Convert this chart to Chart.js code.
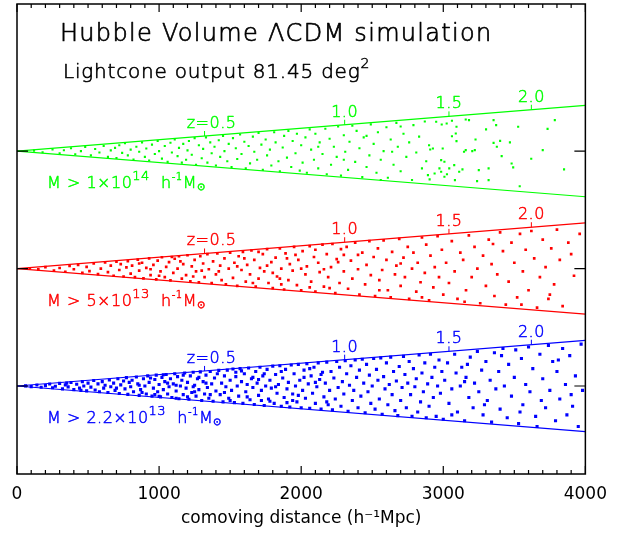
<!DOCTYPE html>
<html>
<head>
<meta charset="utf-8">
<script src="https://cdn.jsdelivr.net/npm/chart.js@4"></script>
<style>
  body { margin: 0; background: #fff; }
</style>
</head>
<body>
<canvas id="cone" width="617" height="533"></canvas>
<script>
// comoving distance along the cone (h^-1 Mpc), offset from the cone axis (h^-1 Mpc)
const greenHalos = [
  [120,3],[180,-8],[250,12],[300,-15],[330,6],[380,20],[410,-22],[450,0],[480,28],[520,-30],[550,14],[580,-10],[610,35],[640,-40],[660,5],
  [690,22],[700,-48],[720,40],[740,-12],[760,55],[780,-30],[800,10],[820,-58],[840,30],[860,-5],[880,60],[900,-40],[910,18],[930,-65],[950,45],
  [970,-20],[990,70],[1000,0],[1020,-52],[1040,35],[1060,-75],[1080,58],[1090,-10],[1110,80],[1130,-35],[1140,22],[1160,-80],[1170,50],[1190,-60],
  [1200,5],[1210,70],[1230,-25],[1250,90],[1260,-95],[1280,40],
  [1300,-50],[1310,15],[1330,95],[1340,-80],[1360,60],[1370,-15],[1390,30],[1400,-100],[1420,75],[1430,-40],[1450,105],[1460,0],[1480,-70],
  [1490,50],[1510,-110],[1520,90],[1540,20],[1550,-55],[1570,115],[1580,-20],[1600,65],[1610,-120],[1630,35],[1640,-85],[1660,100],[1670,-5],
  [1690,-60],[1700,125],[1720,45],[1730,-130],[1750,80],[1760,-30],[1780,10],[1790,-100],[1810,130],[1820,60],[1840,-70],[1850,-140],[1870,25],
  [1880,105],[1900,-45],[1910,140],[1930,-110],[1940,70],[1960,-15],[1970,120],[1990,-135],[2000,40],[2010,-80],[2030,95],
  [2040,-150],[2060,150],[2070,10],[2090,-60],[2100,120],[2120,-120],[2130,60],[2150,-20],[2170,155],[2180,-160],[2200,85],[2210,-95],[2230,30],
  [2250,-40],[2260,170],[2280,-170],[2300,110],[2310,-5],[2330,-130],[2340,65],[2360,175],[2380,-75],[2390,140],[2410,20],[2430,-180],[2440,95],
  [2460,-110],[2480,-30],[2490,185],[2510,50],[2530,-150],[2540,130],[2560,-60],[2580,0],[2600,165],[2610,-185],[2630,80],[2650,-95],[2670,195],
  [2680,30],[2700,-140],[2720,120],[2740,-40],[2760,60],[2780,-200],[2790,180],[2810,-10],[2830,100],[2850,-120],[2870,205],[2880,-70],[2900,40],
  [2640,-5],[2460,105],[2300,-60],[2120,30],[2700,170],[2560,-200],
  [2950,203],[2989,184],[3024,191],[3061,210],[3093,168],[3158,219],[3181,214],[3354,214],[3372,180],[3301,150],[3527,168],[3785,214],[3734,154],
  [3088,122],[3061,103],[3093,69],[3227,80],[3354,57],[3400,71],[3469,60],[3377,30],[3158,7],[3146,-5],[3204,0],[3222,7],[2996,18],[2927,18],
  [2908,11],[3700,7],[3619,-53],[3411,-35],[3319,-120],[3250,-132],[3135,-127],[3112,-143],[3077,-97],[3042,-120],[2973,-120],[2985,-63],
  [3008,-74],[3481,-86],[3492,-113],[3850,-127],[3538,-243],[3319,-201],[3238,-208],[3082,-201],[3026,-160],[3008,-178],[2985,-143],[2939,-155],
  [2904,-196],[2892,-166]
];

const redHalos = [
  [90,2],[150,-6],[200,10],[260,-14],[300,4],[340,-22],[370,18],[400,-5],[430,26],[460,-30],[490,12],[510,-18],[540,35],[570,-38],[590,0],[620,42],
  [640,-25],[660,20],[680,-50],[700,48],
  [720,-10],[730,30],[750,-55],[770,8],[780,52],[800,-35],[810,20],[830,-60],[850,62],[860,-15],[880,40],[890,-68],[910,5],[930,70],[940,-45],
  [960,25],[980,-75],[990,55],[1010,-20],[1020,78],[1040,-60],[1050,12],[1070,45],[1080,-82],[1100,-30],[1110,68],[1130,0],[1140,85],[1160,-70],
  [1170,30],[1190,-45],[1200,92],[1220,-88],[1230,15],[1250,60],[1260,-20],[1280,-95],[1290,85],[1310,35],[1320,-60],[1340,100],[1350,-5],
  [1370,-100],[1380,50],[1400,-40],[1410,105],[1430,20],[1440,-80],[1460,70],[1470,-110],[1490,0],[1500,110],[1300,-15],[1150,50],[1000,-50],
  [860,35],[1420,-20],[1240,-55],[1090,80],[940,-5],
  [1520,-65],[1530,40],[1550,-120],[1560,85],[1580,-10],[1590,115],[1610,-90],[1620,25],[1640,-40],[1650,125],[1670,60],[1680,-125],[1700,-70],
  [1710,5],[1730,100],[1740,-20],[1760,135],[1770,-100],[1790,45],[1800,-135],[1820,75],[1830,-55],[1850,140],[1860,0],[1880,-145],[1890,105],
  [1910,-80],[1920,30],[1940,-15],[1950,150],[1970,-115],[1980,60],[2000,-150],[2010,120],[2030,-40],[2040,15],[2060,155],[2070,-90],[2090,80],
  [2100,-160],[2120,40],[2130,-25],[2150,165],[2160,-125],[2180,100],[2190,-60],[2210,10],[2220,170],[2240,-170],[2250,65],[2270,-100],[2280,135],
  [2300,-20],[1600,70],[1700,115],[1800,-30],[1900,70],[2000,0],[2100,130],[2200,-135],[2300,95],[1660,-100],[1760,20],[1860,-110],[1960,95],
  [2060,-130],[2160,-5],[2260,45],[1550,15],[1850,-70],
  [2320,150],[2330,-140],[2350,55],[2360,-70],[2380,180],[2400,-5],[2410,-180],[2430,110],[2450,-110],[2460,25],[2480,190],[2490,-45],[2510,80],
  [2520,-190],[2540,140],[2550,-80],[2570,-10],[2580,195],[2600,60],[2610,-150],[2630,-200],[2640,115],[2660,-40],[2670,20],[2690,205],[2700,-120],
  [2720,75],[2730,-60],[2750,150],[2760,-210],[2780,0],[2790,110],[2810,-160],[2820,40],[2840,-95],[2850,215],[2870,-30],[2880,165],[2900,-220],
  [2910,90],[2930,-130],[2940,10],[2960,225],[2970,-60],[2990,130],[3000,-180],[2400,95],[2550,-150],[2700,35],[2850,-200],
  [3020,40],[3040,-100],[3060,190],[3080,-20],[3100,-210],[3120,110],[3140,60],[3160,-150],[3180,230],[3200,-60],[3220,150],[3240,0],[3260,-240],
  [3280,90],[3300,-120],[3320,200],[3340,30],[3360,-190],[3380,-40],[3400,250],[3420,120],[3440,-250],[3460,-90],[3480,180],[3500,40],[3520,-200],
  [3540,240],[3560,-20],[3580,130],[3600,-150],[3620,260],[3640,70],[3660,-270],[3680,-60],[3700,200],[3720,10],[3740,-210],[3760,140],[3780,-110],
  [3800,270],[3820,60],[3840,-260],[3880,180],[3920,-50],[3960,240],[3150,-230],[3350,170],[3550,-250],[3750,-180],[3900,100]
];

const blueHalos = [
  [60,1],[100,-4],[140,7],[170,-9],[200,3],[230,14],[250,-12],[270,-2],[300,18],[320,-20],[340,8],[360,-6],[380,24],[400,-25],[420,12],[440,-15],
  [460,30],[470,0],[490,-34],[500,20],[520,-8],[540,38],[550,-28],[570,15],[580,-40],[600,30],[610,-15],[620,5],[350,20],[450,-30],
  [640,-45],[650,42],[660,-5],[680,20],[690,-30],[710,50],[720,-52],[730,8],[750,35],[760,-20],[770,58],[780,-58],[800,-5],[810,40],[820,-40],
  [840,62],[850,15],[860,-65],[870,-25],[890,50],[900,0],[910,-55],[920,70],[930,25],[950,-70],[960,-15],[970,45],[980,75],[990,-40],[1000,10],
  [1010,-75],[1020,60],[1030,-25],[1040,30],[1050,80],[1060,-55],[1070,-5],[1080,50],[1090,-80],[1100,15],[1110,85],[1120,-35],[1130,65],
  [1140,-88],[1150,0],[1160,40],[1170,-60],[1180,90],[1190,-15],[1200,25],[1210,-92],[1220,70],[1230,-45],[1240,95],[1250,5],[1260,-70],[1270,50],
  [1280,-25],[1290,98],[1300,-100],[1310,30],[1320,-55],[1330,75],[1340,-10],[1350,-85],[1360,100],[1370,15],[1380,-105],[1390,55],[1400,-35],
  [700,-15],[790,25],[880,-45],[940,55],[1030,78],[1120,5],[1200,-75],[1280,60],[1360,-60],[1060,20],[970,-60],[860,5],[1170,75],[1250,-40],
  [1330,20],[1410,85],[1240,-5],[1120,-85],[1000,-72],
  [1420,108],[1430,-60],[1440,20],[1450,-110],[1460,70],[1470,-5],[1480,110],[1490,-85],[1500,40],[1510,-30],[1520,118],[1530,-115],[1540,65],
  [1550,0],[1560,-70],[1570,120],[1580,30],[1590,-120],[1600,85],[1610,-40],[1620,10],[1630,125],[1640,-95],[1650,50],[1660,-10],[1670,-128],
  [1680,100],[1690,20],[1700,-65],[1710,130],[1720,-30],[1730,70],[1740,-135],[1750,0],[1760,115],[1770,-90],[1780,40],[1790,-15],[1800,138],
  [1810,-120],[1820,80],[1830,-50],[1840,10],[1850,140],[1860,-140],[1870,55],[1880,-80],[1890,115],[1900,-20],[1910,25],[1920,-145],[1930,145],
  [1940,-55],[1950,85],[1960,0],[1970,-110],[1980,150],[1990,40],[2000,-150],[2010,-30],[2020,110],[2030,-85],[2040,155],[2050,15],[2060,-155],
  [2070,70],[2080,-50],[2090,130],[2100,-120],[2110,-5],[2120,160],[2130,45],[2140,-160],[2150,95],[2160,-75],[2170,20],[2180,165],[2190,-130],
  [2200,-30],[1460,-45],[1540,95],[1620,-75],[1700,45],[1780,-105],[1860,100],[1940,-100],[2020,60],[2100,25],[2180,-110],[1500,-100],[1580,105],
  [1660,60],[1740,85],[1820,-5],[1900,-115],[1980,-65],[2060,120],[2140,80],[1720,-100],
  [2210,100],[2220,-165],[2230,55],[2240,-90],[2250,170],[2260,-10],[2270,130],[2280,-140],[2290,30],[2300,-55],[2310,175],[2320,85],[2330,-175],
  [2340,5],[2350,140],[2360,-100],[2370,-30],[2380,180],[2390,60],[2400,-150],[2410,110],[2420,-70],[2430,185],[2440,20],[2450,-185],[2460,150],
  [2470,-40],[2480,75],[2490,-120],[2500,0],[2510,190],[2520,-160],[2530,115],[2540,40],[2550,-90],[2560,195],[2570,-195],[2580,65],[2590,-20],
  [2600,160],[2610,-130],[2620,10],[2630,200],[2640,-60],[2650,100],[2660,-170],[2670,35],[2680,-205],[2690,135],[2700,-100],[2710,-10],[2720,205],
  [2730,80],[2740,-150],[2750,20],[2760,170],[2770,-60],[2780,-210],[2790,120],[2800,-5],[2810,50],[2820,-180],[2830,215],[2840,-110],[2850,90],
  [2860,-40],[2870,160],[2880,-220],[2890,15],[2900,-140],[2910,220],[2920,60],[2930,-80],[2940,130],[2950,-210],[2960,0],[2970,180],[2980,-50],
  [2990,100],[3000,-230],
  [3010,40],[3030,160],[3040,-120],[3060,-20],[3080,220],[3090,90],[3100,-180],[3120,0],[3130,130],[3150,-240],[3160,60],[3180,-80],[3190,200],
  [3210,-150],[3220,20],[3240,240],[3250,-40],[3270,110],[3280,-200],[3300,170],[3310,-100],[3330,40],[3340,-250],[3360,230],[3370,-20],[3390,100],
  [3400,-160],[3420,260],[3430,0],[3450,-220],[3460,150],[3480,-70],[3500,60],[3510,250],[3530,-260],[3550,190],[3560,-130],[3580,10],[3600,270],
  [3610,-40],[3630,120],[3650,-210],[3660,-280],[3680,220],[3700,50],[3720,-150],[3740,280],[3750,-30],[3770,170],[3790,-240],[3800,100],
  [3820,-90],[3840,260],[3860,10],[3870,-200],[3890,210],[3910,-140],[3930,70],[3950,-280],[3970,290],[3980,-30],[3060,-200],[3170,150],
  [3290,-130],[3410,210],[3540,-180],[3690,-100],[3810,180],[3900,-60],[3150,30]
];

// redshift marks along the upper edge of each cone
const zLabels = ['z=0.5', '1.0', '1.5', '2.0'];
const zDistance = [1320, 2306, 3040, 3620];

const massLabels = [
  ['M > 1×10', '14'],
  ['M > 5×10', '13'],
  ['M > 2.2×10', '13']
];

const colours = ['#00ff00', '#ff0000', '#0000ff'];
const dotSize = [1.5, 1.9, 2.2];
const coneAxis = [1626, 813, 0];   // where each cone sits on the (unlabelled) vertical axis
const edgeSlope = 0.079;           // tan of the half opening angle, 81.45 deg^2
const maxDist = 4000;
const FONT = '"DejaVu Sans", sans-serif';

const halos = [greenHalos, redHalos, blueHalos];

const datasets = [];
halos.forEach((list, i) => {
  datasets.push({
    data: list.map(p => ({ x: p[0], y: coneAxis[i] + p[1] })),
    backgroundColor: colours[i],
    pointStyle: 'rect',
    pointRadius: dotSize[i],
    pointBorderWidth: 0,
    showLine: false
  });
  [1, -1].forEach(sign => {
    datasets.push({
      data: [{ x: 0, y: coneAxis[i] }, { x: maxDist, y: coneAxis[i] + sign * edgeSlope * maxDist }],
      borderColor: colours[i],
      borderWidth: 1.2,
      pointRadius: 0,
      showLine: true
    });
  });
});

// thin font plus a hairline stroke gives the monoline look of the original lettering
function label(ctx, str, x, y, size, stroke) {
  ctx.font = '200 ' + size + 'px ' + FONT;
  ctx.lineWidth = stroke;
  ctx.fillText(str, x, y);
  ctx.strokeText(str, x, y);
  return ctx.measureText(str).width;
}

const decorations = {
  id: 'decorations',
  afterDraw(chart) {
    const ctx = chart.ctx;
    const xs = chart.scales.x, ys = chart.scales.y;
    const a = chart.chartArea;
    ctx.save();

    // frame with inward ticks
    ctx.strokeStyle = '#000';
    ctx.lineWidth = 1.5;
    ctx.strokeRect(a.left, a.top, a.right - a.left, a.bottom - a.top);
    ctx.lineWidth = 1.2;
    ctx.beginPath();
    for (let v = 0; v <= maxDist; v += 100) {
      const px = xs.getPixelForValue(v);
      const len = v % 1000 === 0 ? 8 : 4;
      ctx.moveTo(px, a.bottom); ctx.lineTo(px, a.bottom - len);
      ctx.moveTo(px, a.top); ctx.lineTo(px, a.top + len);
    }
    coneAxis.forEach(c => {
      const py = ys.getPixelForValue(c);
      ctx.moveTo(a.left, py); ctx.lineTo(a.left + 11, py);
      ctx.moveTo(a.right, py); ctx.lineTo(a.right - 11, py);
    });
    ctx.stroke();

    // redshift ticks and labels, mass thresholds
    ctx.lineJoin = 'round';
    coneAxis.forEach((c, i) => {
      ctx.strokeStyle = colours[i];
      ctx.fillStyle = colours[i];
      ctx.textAlign = 'center';
      ctx.textBaseline = 'alphabetic';
      ctx.letterSpacing = '0.5px';
      zDistance.forEach((d, k) => {
        const px = xs.getPixelForValue(d);
        const py = ys.getPixelForValue(c + edgeSlope * d);
        ctx.lineWidth = 1;
        ctx.beginPath();
        ctx.moveTo(px, py); ctx.lineTo(px, py - 5);
        ctx.stroke();
        const shift = k === 0 ? 7 : 0;
        label(ctx, zLabels[k], px + shift, py - 8, 16, 0.5);
      });

      const base = ys.getPixelForValue(c) + 37;
      let x = a.left + 30;
      ctx.textAlign = 'left';
      ctx.letterSpacing = '0.5px';
      const parts = [
        [massLabels[i][0], 16, 0],
        [massLabels[i][1], 13, -8],
        ['  h', 16, 0],
        ['-1', 10, -8],
        ['M', 16, 0],
        ['⊙', 10, 2]
      ];
      parts.forEach(p => {
        x += label(ctx, p[0], x, base + p[2], p[1], 0.5);
      });
    });

    // titles
    ctx.fillStyle = '#000';
    ctx.strokeStyle = '#000';
    ctx.textAlign = 'left';
    ctx.letterSpacing = '1.3px';
    label(ctx, 'Hubble Volume ΛCDM simulation', a.left + 43, a.top + 37, 24, 0.7);
    ctx.letterSpacing = '0.8px';
    const w2 = label(ctx, 'Lightcone output 81.45 deg', a.left + 46, a.top + 74, 20, 0.6);
    label(ctx, '2', a.left + 46 + w2, a.top + 64, 14, 0.5);
    ctx.restore();
  }
};

new Chart(document.getElementById('cone'), {
  type: 'scatter',
  data: { datasets },
  options: {
    responsive: false,
    animation: false,
    devicePixelRatio: 1,
    layout: { padding: { left: 17, right: 22, top: 4, bottom: 0 } },
    plugins: { legend: { display: false }, tooltip: { enabled: false } },
    scales: {
      x: {
        type: 'linear',
        min: 0,
        max: maxDist,
        grid: { display: false, drawTicks: false },
        border: { display: false },
        ticks: {
          stepSize: 1000, color: '#000', padding: 10, maxRotation: 0,
          font: { family: FONT, size: 17 },
          callback: v => String(v)
        },
        title: {
          display: true, text: 'comoving distance (h⁻¹Mpc)', color: '#000',
          font: { family: FONT, size: 17 }, padding: { top: 0, bottom: 4 }
        },
        afterFit(s) { s.height = 59; }
      },
      y: { display: false, min: -609, max: 2644 }
    }
  },
  plugins: [decorations]
});
</script>
</body>
</html>
